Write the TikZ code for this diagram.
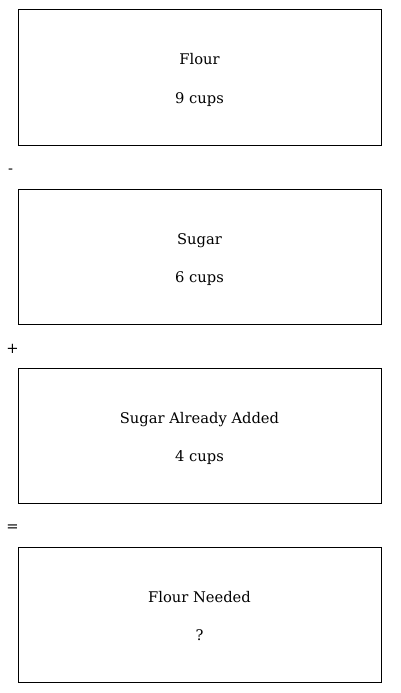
\documentclass[tikz,border=0pt]{standalone}
\usepackage{fontspec}
\setmainfont{DejaVu Serif}
\begin{document}
\begin{tikzpicture}[x=1pt,y=-1pt,
  panel/.style={draw=black, line width=1pt, minimum width=363pt, minimum height=135pt, inner sep=0pt},
  lbl/.style={font=\fontsize{14.7}{17}\selectfont, anchor=base, inner sep=0pt},
  op/.style={font=\fontsize{14.7}{17}\selectfont}]
\useasboundingbox (0,0) rectangle (400,693);
\node[panel] (b1) at (199.5,77.5) {};
\node[panel] (b2) at (199.5,256.5) {};
\node[panel] (b3) at (199.5,435.5) {};
\node[panel] (b4) at (199.5,614.5) {};
\node[lbl] (t1) at (199.5,65) {Flour};
\node[lbl] (v1) at (199.5,103.5) {9 cups};
\node[lbl] (t2) at (199.5,244) {Sugar};
\node[lbl] (v2) at (199.5,282.5) {6 cups};
\node[lbl] (t3) at (199.5,423) {Sugar Already Added};
\node[lbl] (v3) at (199.5,461.5) {4 cups};
\node[lbl] (t4) at (199.5,602) {Flour Needed};
\node[lbl] (v4) at (199.5,640.5) {?};
\node[op] (o1) at (10.5,171.5) {-};
\node[op] (o2) at (12.5,349) {+};
\node[op] (o3) at (12.5,528.5) {=};
\end{tikzpicture}
\end{document}
